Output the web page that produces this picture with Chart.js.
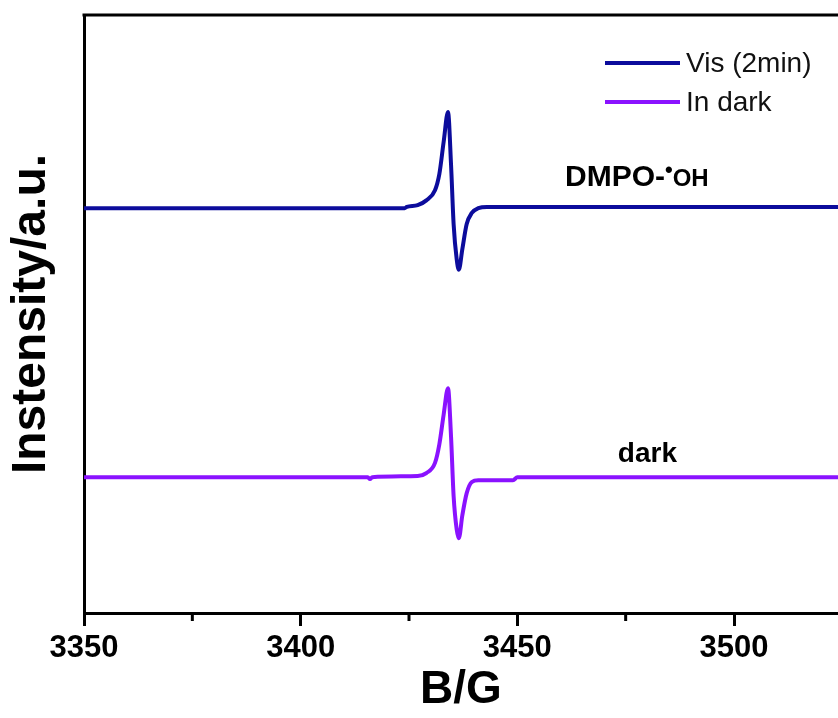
<!DOCTYPE html>
<html>
<head>
<meta charset="utf-8">
<script src="https://cdn.jsdelivr.net/npm/chart.js@4.4.0/dist/chart.umd.min.js"></script>
<style>
    html, body { margin: 0; padding: 0; background: #fff; }
    #wrap { width: 838px; height: 718px; }
</style>
</head>
<body>
<div id="wrap"><canvas id="epr" width="838" height="718"></canvas></div>
<script>
// EPR spectrum, DMPO-•OH, Vis (2min) vs dark

const fieldTicks = [3350, 3375, 3400, 3425, 3450, 3475, 3500];
const seriesNames = ['Vis (2min)', 'In dark'];
const seriesColors = ['#0c0c9c', '#8a12ff'];

const visField = [3350, 3400, 3424, 3424.5, 3427, 3429, 3431, 3432, 3433, 3434, 3434.7, 3435.3, 3436, 3436.5, 3437.3, 3438.3, 3439.5, 3441, 3443, 3525];
const visIntensity = [67.7, 67.7, 67.7, 67.9, 68.2, 69.0, 70.7, 73.4, 78.8, 83.8, 75.0, 65.0, 59.2, 57.4, 60.8, 65.0, 66.9, 67.7, 67.9, 67.9];

const darkField = [3350, 3415.5, 3416, 3416.5, 3427, 3429, 3431, 3432, 3433, 3434, 3434.7, 3435.3, 3436, 3436.5, 3437.3, 3438.3, 3439.5, 3441, 3449, 3450, 3525];
const darkIntensity = [22.7, 22.7, 22.4, 22.7, 22.9, 23.4, 25.1, 28.2, 33.2, 37.6, 29.5, 19.5, 14.0, 12.5, 16.3, 20.0, 21.9, 22.2, 22.2, 22.7, 22.7];

const FONT = "'Liberation Sans', Arial, sans-serif";
Chart.defaults.font.family = FONT;
Chart.defaults.color = '#000';

function toPoints(xs, ys) {
    return xs.map((x, i) => ({ x: x, y: ys[i] }));
}

// top frame, minor ticks, legend and text labels
const extrasPlugin = {
    id: 'extras',
    afterDraw(chart) {
        const ctx = chart.ctx;
        const area = chart.chartArea;
        const xs = chart.scales.x;
        const ys = chart.scales.y;
        ctx.save();

        // top frame line
        ctx.strokeStyle = '#000';
        ctx.lineWidth = 3;
        ctx.beginPath();
        ctx.moveTo(area.left - 1.5, area.top);
        ctx.lineTo(area.right, area.top);
        ctx.stroke();

        // minor ticks
        fieldTicks.forEach(v => {
            if (v % 50 === 0) return;
            const px = xs.getPixelForValue(v);
            ctx.beginPath();
            ctx.moveTo(px, area.bottom);
            ctx.lineTo(px, area.bottom + 8);
            ctx.stroke();
        });

        // legend
        ctx.font = '28px ' + FONT;
        ctx.textBaseline = 'middle';
        ctx.textAlign = 'left';
        chart.data.datasets.forEach((ds, i) => {
            const y = area.top + 48 + i * 39;
            const x0 = area.right - 233;
            ctx.strokeStyle = ds.borderColor;
            ctx.lineWidth = 4;
            ctx.beginPath();
            ctx.moveTo(x0, y);
            ctx.lineTo(x0 + 75, y);
            ctx.stroke();
            ctx.fillStyle = '#111';
            ctx.fillText(ds.label, x0 + 81, y + 1);
        });

        // annotations
        ctx.fillStyle = '#000';
        ctx.textBaseline = 'alphabetic';
        let tx = xs.getPixelForValue(3461);
        let ty = ys.getPixelForValue(73.2) + 11;
        ctx.font = 'bold 30px ' + FONT;
        ctx.fillText('DMPO-', tx, ty);
        tx += ctx.measureText('DMPO-').width;
        ctx.font = 'bold 22px ' + FONT;
        ctx.fillText('•', tx, ty - 9);
        tx += ctx.measureText('•').width;
        ctx.font = 'bold 24px ' + FONT;
        ctx.fillText('OH', tx, ty);

        ctx.font = 'bold 28px ' + FONT;
        ctx.fillText('dark', xs.getPixelForValue(3473.2), ys.getPixelForValue(26.9) + 10);

        ctx.restore();
    }
};

new Chart(document.getElementById('epr'), {
    type: 'line',
    data: {
        datasets: [
            {
                label: seriesNames[0],
                data: toPoints(visField, visIntensity),
                borderColor: seriesColors[0],
                backgroundColor: seriesColors[0],
                borderWidth: 4,
                pointRadius: 0,
                cubicInterpolationMode: 'monotone'
            },
            {
                label: seriesNames[1],
                data: toPoints(darkField, darkIntensity),
                borderColor: seriesColors[1],
                backgroundColor: seriesColors[1],
                borderWidth: 4,
                pointRadius: 0,
                cubicInterpolationMode: 'monotone'
            }
        ]
    },
    options: {
        responsive: false,
        animation: false,
        devicePixelRatio: 1,
        layout: { padding: { top: 15, right: 0, left: 0, bottom: 0 } },
        plugins: {
            legend: { display: false },
            tooltip: { enabled: false }
        },
        scales: {
            x: {
                type: 'linear',
                min: 3350,
                max: 3524,
                afterBuildTicks(scale) {
                    scale.ticks = fieldTicks.map(v => ({ value: v }));
                },
                afterFit(scale) {
                    scale.height = 105;
                },
                ticks: {
                    autoSkip: false,
                    maxRotation: 0,
                    padding: 4,
                    font: { size: 31, weight: 'bold' },
                    color: '#000',
                    callback: v => (v % 50 === 0 ? String(v) : '')
                },
                grid: {
                    drawOnChartArea: false,
                    drawTicks: true,
                    tickLength: 13,
                    tickWidth: 3,
                    tickColor: c => (c.tick && c.tick.value % 50 === 0 ? '#000' : 'rgba(0,0,0,0)')
                },
                border: { display: true, color: '#000', width: 3 },
                title: {
                    display: true,
                    text: 'B/G',
                    font: { size: 46, weight: 'bold' },
                    color: '#000',
                    padding: { top: 0, bottom: 0 }
                }
            },
            y: {
                min: 0,
                max: 100,
                afterFit(scale) {
                    scale.width = 84;
                },
                ticks: { display: false },
                grid: { display: false, drawTicks: false },
                border: { display: true, color: '#000', width: 3 },
                title: {
                    display: true,
                    text: 'Instensity/a.u.',
                    font: { size: 48, weight: 'bold' },
                    color: '#000',
                    padding: { top: 3, bottom: 0 }
                }
            }
        }
    },
    plugins: [extrasPlugin]
});
</script>
</body>
</html>
